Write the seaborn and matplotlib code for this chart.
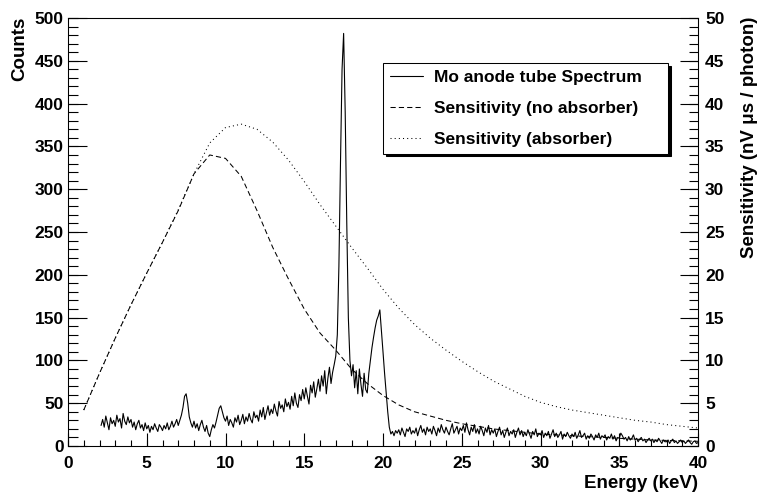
import numpy as np
import matplotlib
matplotlib.use("Agg")
import matplotlib.pyplot as plt
import seaborn as sns
from matplotlib.ticker import MultipleLocator
from matplotlib.lines import Line2D

# --- data ---
# spectrum bins, 0.1 keV wide, 2.1 .. 40.0 keV
energy = np.round(np.arange(2.1, 40.05, 0.1), 1)
counts = [
    24, 31, 22, 35, 27, 19, 33, 26, 30,                 # 2.1-2.9
    23, 36, 28, 32, 21, 38, 29, 25, 34, 27,             # 3
    31, 22, 28, 19, 26, 30, 21, 25, 18, 27,             # 4
    20, 24, 16, 23, 19, 26, 21, 17, 25, 22,             # 5
    18, 24, 20, 27, 19, 23, 29, 22, 26, 31,             # 6
    24, 30, 36, 45, 58, 61, 50, 34, 27, 22,             # 7
    29, 21, 26, 18, 25, 30, 22, 17, 24, 15,             # 8
    11, 19, 25, 21, 28, 36, 44, 47, 40, 33,             # 9
    29, 35, 24, 31, 27, 22, 33, 28, 36, 25,             # 10
    30, 37, 26, 34, 29, 38, 31, 27, 40, 33,             # 11
    36, 29, 42, 34, 45, 31, 39, 47, 36, 43,             # 12
    38, 49, 41, 35, 52, 44, 48, 40, 55, 46,             # 13
    51, 43, 58, 47, 62, 50, 45, 60, 53, 66,             # 14
    55, 68, 58, 49, 71, 62, 75, 57, 67, 78,             # 15
    64, 82, 70, 88, 61, 79, 92, 73, 86, 95,             # 16
    105, 130, 210, 330, 440, 482, 390, 260, 150, 100,   # 17
    82, 95, 68, 88, 61, 90, 72, 58, 85, 66,             # 18
    62, 85, 100, 115, 127, 138, 147, 152, 159, 135,     # 19
    110, 85, 62, 40, 22, 14, 17, 12, 18, 15,            # 20
    19, 13, 21, 16, 11, 20, 17, 22, 14, 18,             # 21
    15, 21, 12, 19, 24, 16, 20, 13, 22, 17,             # 22
    20, 14, 23, 18, 12, 21, 16, 25, 19, 15,             # 23
    22, 17, 13, 20, 26, 15, 19, 23, 14, 21,             # 24
    18, 24, 16, 27, 19, 13, 22, 17, 25, 15,             # 25
    20, 14, 23, 18, 12, 21, 16, 24, 13, 19,             # 26
    15, 20, 11, 17, 22, 13, 18, 10, 16, 21,             # 27
    12, 17, 14, 19, 10, 16, 21, 13, 18, 11,             # 28
    16, 12, 19, 14, 9, 17, 13, 20, 11, 15,              # 29
    13, 18, 10, 15, 12, 17, 9, 14, 19, 11,              # 30
    15, 10, 13, 17, 8, 14, 11, 16, 12, 9,               # 31
    14, 11, 16, 9, 13, 18, 10, 12, 15, 8,               # 32
    12, 9, 14, 11, 7, 13, 10, 15, 8, 12,                # 33
    10, 13, 7, 11, 9, 14, 8, 12, 6, 10,                 # 34
    9, 15, 12, 8, 10, 6, 11, 7, 9, 13,                  # 35
    7, 9, 5, 8, 10, 6, 8, 4, 7, 9,                      # 36
    6, 8, 4, 7, 5, 9, 6, 3, 7, 5,                       # 37
    5, 7, 3, 6, 8, 4, 6, 3, 5, 7,                       # 38
    4, 6, 3, 5, 7, 4, 2, 5, 6, 3,                       # 39
    4,                                                  # 40.0
]

# sensitivity curves, 1 keV steps
sens_energy = list(range(1, 41))
sens_no_abs = [4.2, 8.5, 12.6, 16.5, 20.2, 23.8, 27.5, 31.8, 34.0, 33.6,
               31.5, 27.5, 23.2, 19.5, 16.0, 13.2, 11.2, 9.0, 7.3, 5.9,
               4.8, 4.0, 3.5, 3.0, 2.6, 2.3, 2.0, 1.8, 1.6, 1.4,
               1.3, 1.2, 1.1, 1.0, 0.9, 0.8, 0.7, 0.65, 0.6, 0.55]
sens_abs = [4.2, 8.5, 12.6, 16.5, 20.2, 23.8, 27.6, 31.8, 35.4, 37.2,
            37.6, 37.0, 35.5, 33.4, 30.9, 28.2, 25.7, 23.2, 20.8, 18.3,
            16.1, 14.2, 12.6, 11.2, 9.9, 8.7, 7.6, 6.7, 5.8, 5.1,
            4.6, 4.2, 3.9, 3.6, 3.3, 3.0, 2.8, 2.5, 2.3, 2.1]

labels = ["Mo anode tube Spectrum", "Sensitivity (no absorber)", "Sensitivity (absorber)"]

# --- style (ROOT look) ---
sns.set_style("ticks")
plt.rcParams.update({
    'font.family': ['Liberation Sans', 'DejaVu Sans'],
    'font.weight': 'bold',
    'text.color': 'black',
    'axes.labelcolor': 'black',
    'axes.edgecolor': 'black',
    'axes.linewidth': 0.75,
    'xtick.color': 'black',
    'ytick.color': 'black',
    'xtick.labelsize': 12.5,
    'ytick.labelsize': 12.5,
})

W, H = 762, 496
AX_W, AX_H = 630, 428
fig = plt.figure(figsize=(W / 100, H / 100), dpi=100)
ax = fig.add_axes([68 / W, 50 / H, AX_W / W, AX_H / H])
ax2 = ax.twinx()

sns.lineplot(x=energy, y=counts, ax=ax, color='black', linewidth=0.8)
sns.lineplot(x=sens_energy, y=sens_no_abs, ax=ax2, color='black',
             linewidth=0.75, linestyle=(0, (5, 3)))
sns.lineplot(x=sens_energy, y=sens_abs, ax=ax2, color='black',
             linewidth=0.75, linestyle=(0, (1, 3)))

ax.set_xlim(0, 40)
ax.set_ylim(0, 500)
ax2.set_ylim(0, 50)

ax.xaxis.set_major_locator(MultipleLocator(5))
ax.yaxis.set_major_locator(MultipleLocator(50))
ax2.yaxis.set_major_locator(MultipleLocator(5))

for a in (ax, ax2):
    for s in a.spines.values():
        s.set_visible(True)
        s.set_linewidth(0.75)
    a.set_xlabel('')
    a.set_ylabel('')

# tick marks drawn as ordinary lines (NaN-separated segments); labels from matplotlib
ax.tick_params(axis='x', length=0, pad=7)
ax.tick_params(axis='y', length=0, pad=3)
ax2.tick_params(axis='y', length=0, pad=5)
ax2.tick_params(axis='x', labelbottom=False)


def tick_path(pos, start, stop):
    a = np.repeat(np.asarray(pos, dtype=float), 3)
    b = np.tile([start, stop, np.nan], len(pos))
    return a, b


def draw_ticks(target, pos, start, stop, vertical):
    p, q = tick_path(pos, start, stop)
    if vertical:
        target.plot(p, q, transform=target.get_xaxis_transform(), color='black',
                    lw=0.8, clip_on=False, solid_capstyle='butt')
    else:
        target.plot(q, p, transform=target.get_yaxis_transform(), color='black',
                    lw=0.8, clip_on=False, solid_capstyle='butt')


draw_ticks(ax, np.arange(0, 41, 1), 0, 6.5 / AX_H, True)
draw_ticks(ax, np.arange(0, 41, 5), 0, 13 / AX_H, True)
draw_ticks(ax, np.arange(0, 501, 10), 0, 9.5 / AX_W, False)
draw_ticks(ax, np.arange(0, 501, 50), 0, 19 / AX_W, False)
draw_ticks(ax2, np.arange(0, 51, 1), 1 - 9 / AX_W, 1, False)
draw_ticks(ax2, np.arange(0, 51, 5), 1 - 18 / AX_W, 1, False)

# axis titles, ROOT style (at the axis ends)
fig.text(20 / W, 1 - 17 / H, "Counts", rotation=90, ha='center', va='top',
         fontsize=13.5, fontweight='bold')
fig.text(750 / W, 1 - 17 / H, "Sensitivity (nV \u03bcs / photon)", rotation=90,
         ha='center', va='top', fontsize=13.5, fontweight='bold')
fig.text(698 / W, 1 - 484 / H, "Energy (keV)", ha='right', va='center',
         fontsize=13.5, fontweight='bold')

handles = [Line2D([], [], color='black', lw=0.8),
           Line2D([], [], color='black', lw=0.75, linestyle=(0, (5, 3))),
           Line2D([], [], color='black', lw=0.75, linestyle=(0, (1, 3)))]
leg = ax2.legend(handles, labels, loc='upper left', mode='expand',
                 bbox_to_anchor=(383 / W, 1 - 152 / H, 285 / W, 89 / H),
                 bbox_transform=fig.transFigure,
                 fontsize=12.5, frameon=True, fancybox=False,
                 shadow={'color': 'black', 'alpha': 1.0},
                 handlelength=1.9, handletextpad=0.65, labelspacing=0.9,
                 borderpad=0.4, borderaxespad=0)
leg.get_frame().set_edgecolor('black')
leg.get_frame().set_linewidth(0.75)

fig.savefig('out.png', dpi=100, facecolor='white')
